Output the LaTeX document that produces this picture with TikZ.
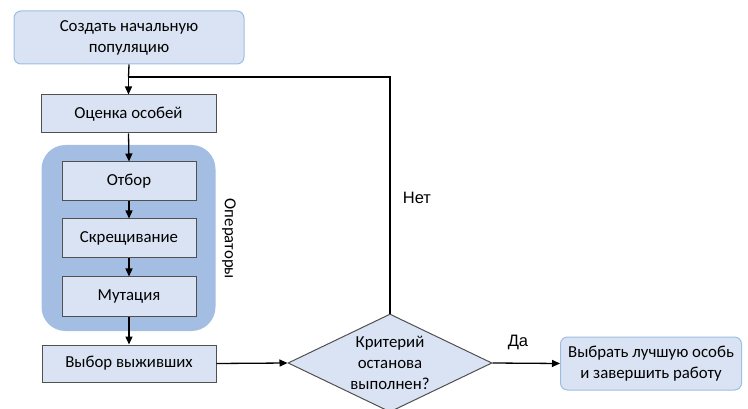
\documentclass[tikz,border=0pt]{standalone}
\usepackage{fontspec}
\setmainfont{Carlito}
\newfontfamily\arialfont{Liberation Sans}
\usetikzlibrary{shapes.geometric,arrows.meta}
\definecolor{boxfill}{HTML}{DAE3F3}
\definecolor{opfill}{HTML}{A4BDE2}
\definecolor{boxline}{HTML}{505050}
\definecolor{roundline}{HTML}{9DBDE3}
\begin{document}
\begin{tikzpicture}[x=1pt,y=-1pt,
  every node/.style={font=\fontsize{16.8}{21}\selectfont},
  rect/.style={draw=boxline,line width=1pt,fill=boxfill,minimum width=175pt,minimum height=38pt,inner sep=0pt,align=center},
  inrect/.style={rect,minimum width=134pt,minimum height=39pt},
  rbox/.style={draw=roundline,line width=1pt,fill=boxfill,rounded corners=7pt,inner sep=0pt,align=center},
  conn/.style={line width=1.3pt,-{Triangle[length=8pt,width=7pt]}},
  plain/.style={line width=1.3pt},
  lbl/.style={font=\arialfont\fontsize{16.5}{20}\selectfont}
]
\useasboundingbox (0,0) rectangle (748,409);
\node[rbox,minimum width=230pt,minimum height=53pt] (start) at (129,37.5) {Создать начальную\\популяцию};
\node[rect] (eval) at (128.5,114) {Оценка особей};
\node[draw=none,fill=opfill,rounded corners=24pt,minimum width=174pt,minimum height=186pt] (ops) at (128.5,238) {};
\node[inrect] (sel) at (129,181.5) {Отбор};
\node[inrect] (cross) at (129,238.5) {Скрещивание};
\node[inrect] (mut) at (129,296.5) {Мутация};
\node[rotate=-90] (opslbl) at (229,239) {Операторы};
\node[rect,minimum width=174pt,minimum height=37pt] (surv) at (129,363.5) {Выбор выживших};
\node[diamond,draw=boxline,line width=1pt,fill=boxfill,minimum width=204pt,minimum height=98pt,inner sep=0pt,align=center,aspect=2.08] (crit) at (390,363) {Критерий\\останова\\выполнен?};
\node[rbox,minimum width=181pt,minimum height=53pt] (fin) at (651,363.5) {Выбрать лучшую особь\\и завершить работу};
\coordinate (j1) at (128.5,77);
\coordinate (j2) at (390,77);
\draw[plain] (start.south) -- (j1);
\draw[conn] (j1) -- (eval.north);
\draw[plain] (crit.north) -- (j2) -- (j1);
\draw[conn] (eval.south) -- (sel.north);
\draw[conn] (sel.south) -- (cross.north);
\draw[conn] (cross.south) -- (mut.north);
\draw[conn] (mut.south) -- (surv.north);
\draw[conn] (surv.east) -- (crit.west);
\draw[conn] (crit.east) -- (fin.west);
\node[lbl] (no) at (417,198) {Нет};
\node[lbl] (yes) at (518,342) {Да};
\end{tikzpicture}
\end{document}
